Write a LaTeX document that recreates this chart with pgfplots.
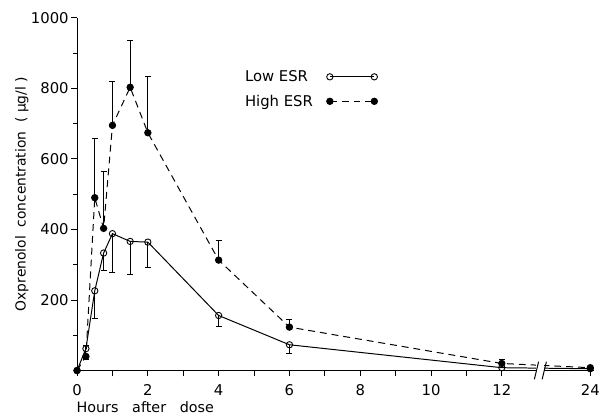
\documentclass[border=0pt]{standalone}
\usepackage{pgfplots}
\pgfplotsset{compat=1.18}
\usepackage{fontspec}
\setmainfont{DejaVu Sans}
\begin{document}
\begin{tikzpicture}
\pgfplotstableread{
x y ep
0 0 0
0.25 40 30
0.5 490 168
0.75 403 162
1 695 125
1.5 803 134
2 674 160
4 313 56
6 123 22
12 20 12
14.5 8 0
}\high
\pgfplotstableread{
x y em
0 0 0
0.25 62 32
0.5 226 79
0.75 333 48
1 388 110
1.5 366 94
2 364 72
4 156 32
6 73 25
12 8 0
14.5 5 0
}\low
\begin{axis}[
  at={(0,0)}, anchor=south west,
  scale only axis,
  width=523pt, height=357pt,
  xmin=0, xmax=14.6, ymin=0, ymax=1000,
  axis x line*=bottom, axis y line*=left,
  axis line style={line width=1pt},
  tick align=outside,
  major tick length=6pt, minor tick length=4pt,
  tick style={line width=0.9pt, black},
  xtick={0,1,...,12,14.5},
  xticklabels={0,,2,,4,,6,,8,,10,,12,24},
  ytick={200,400,...,1000},
  minor ytick={100,300,...,900},
  /pgf/number format/assume math mode=true,
  ticklabel style={font=\fontsize{15}{17}\selectfont},
  xticklabel style={yshift=-5pt},
  yticklabel style={/pgf/number format/1000 sep={}, xshift=1pt},
  ylabel={Oxprenolol\ \ concentration\ \ ( µg/l )},
  ylabel style={font=\fontsize{14}{16}\selectfont, at={(axis description cs:-0.107,0.5)}, anchor=center},
  xlabel={Hours\ \ \ after\ \ \ dose},
  xlabel style={font=\fontsize{14.5}{16}\selectfont, at={(axis description cs:0,0)}, anchor=north west, yshift=-28pt, xshift=-4pt},
  clip=false,
  legend style={at={(axis cs:4.6,862)}, anchor=north west, draw=none, fill=none, font=\fontsize{15}{17}\selectfont, row sep=8pt, column sep=12pt},
  legend plot pos=right,
  legend cell align=left,
  legend image code/.code={\draw[#1] plot coordinates {(0pt,0pt) (45pt,0pt)};},
]
\addplot[black, line width=1pt, mark=o, mark size=3.2pt, mark options={solid, fill=white, line width=0.9pt},
  error bars/.cd, y dir=minus, y explicit, error bar style={line width=0.9pt, solid}, error mark options={rotate=90, mark size=3pt, line width=0.9pt}]
  table[x=x, y=y, y error minus=em] {\low};
\addlegendentry{Low\ ESR}
\addplot[black, line width=1pt, dash pattern=on 7pt off 5pt, mark=*, mark size=3.2pt, mark options={solid, fill=black},
  error bars/.cd, y dir=plus, y explicit, error bar style={line width=0.9pt, solid}, error mark options={rotate=90, mark size=3pt, line width=0.9pt}]
  table[x=x, y=y, y error plus=ep] {\high};
\addlegendentry{High\ ESR}
\fill[white] (axis cs:12.98,-22) rectangle (axis cs:13.2,40);
\draw[line width=1pt] (axis cs:12.92,-25) -- (axis cs:13.04,25);
\draw[line width=1pt] (axis cs:13.14,-25) -- (axis cs:13.26,25);
\end{axis}
\path (-78pt,-42pt) rectangle (525pt,375pt);
\end{tikzpicture}
\end{document}
